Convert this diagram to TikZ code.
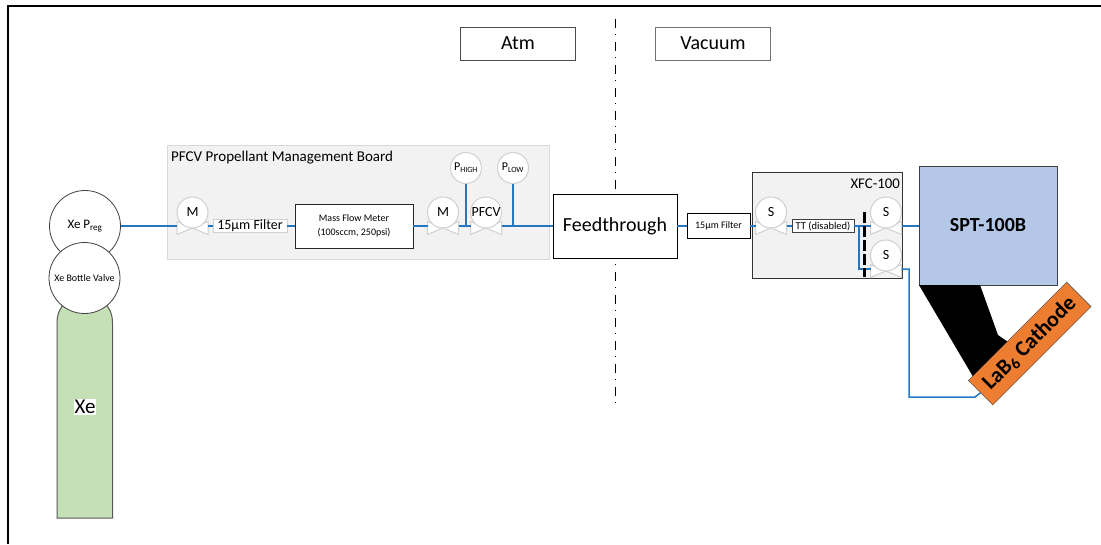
\documentclass[tikz,border=0pt]{standalone}
\usepackage{fontspec}
\setmainfont{Carlito}
\usepackage{tikz}

\definecolor{pipeblue}{HTML}{2476BE}
\definecolor{boardgray}{HTML}{F2F2F2}
\definecolor{edgegray}{HTML}{D0D0D0}
\definecolor{tankgreen}{HTML}{C5E0B4}
\definecolor{sptblue}{HTML}{B4C7E7}
\definecolor{cathodeorange}{HTML}{ED7D31}
\newcommand{\px}[1]{\fontsize{#1}{#1}\selectfont}

\begin{document}
\begin{tikzpicture}[x=1pt,y=-1pt]

\tikzset{box/.style = {shape=rectangle,draw,fill=white,inner sep=0pt}}
\tikzset{gauge/.style = {shape=circle,draw=edgegray,fill=white,inner sep=0pt,minimum size=31pt,line width=1pt}}
\tikzset{bigcircle/.style = {shape=circle,draw=black!75,fill=white,inner sep=0pt,minimum size=71pt,line width=0.8pt}}
\tikzset{pipe/.style = {draw=pipeblue,line width=1.5pt}}
\tikzset{valve/.pic = {
  \draw[edgegray,fill=white,line width=1pt] (-15.5,-6.5) -- (15.5,6.5) -- (15.5,-6.5) -- (-15.5,6.5) -- cycle;
  \node[gauge] (-c) at (0,-15.5) {\px{14}#1};
  \coordinate (-in) at (-15.5,-2);
  \coordinate (-out) at (15.5,-2);
}}

\useasboundingbox (0,0) rectangle (1101,544);

%frame
\coordinate (ftr) at (1101,6);
\coordinate (ftl) at (8,6);
\coordinate (fbl) at (8,544);
\draw[line width=2pt] (ftr) -- (ftl) -- (fbl);

%divider
\coordinate (divtop) at (615.5,19);
\coordinate (divbot) at (615.5,407);
\draw[line width=0.8pt,dash pattern=on 9pt off 6pt on 1pt off 7pt] (divtop) -- (divbot);
\node[box,draw=black!70,minimum width=115pt,minimum height=33pt] (atm) at (518,43.5) {\px{20}Atm};
\node[box,draw=black!55,minimum width=115pt,minimum height=33pt] (vacuum) at (713,43.5) {\px{20}Vacuum};

%panels
\node[box,draw=black!15,fill=boardgray,minimum width=381.5pt,minimum height=114.5pt] (board) at (358.2,202.2) {};
\node[anchor=west,inner sep=0pt] (boardtitle) at (171,157.5) {\px{15}PFCV Propellant Management Board};
\node[box,draw=black!80,fill=boardgray,minimum width=150pt,minimum height=106pt] (xfc) at (827,225) {};
\node[anchor=east,inner sep=0pt] (xfctitle) at (900,184) {\px{14.8}XFC-100};

%tank
\draw[draw=black!65,fill=tankgreen,line width=1pt] (57,518) -- (57,323)
  .. controls (57,305) and (70,296) .. (85,296)
  .. controls (100,296) and (112.5,305) .. (112.5,323) -- (112.5,518) -- cycle;
\node[fill=white,inner sep=1pt] (xe) at (85,407) {\px{21}Xe};
\node[bigcircle] (preg) at (85,226) {\px{13}Xe P\textsubscript{reg}};
\node[bigcircle] (bottle) at (84.5,278) {\px{10}Xe Bottle Valve};

%board parts
\pic (m1) at (192.5,228) {valve=M};
\node[box,draw=edgegray,minimum width=74pt,minimum height=13pt] (filter1) at (250,226) {\px{14}15µm Filter};
\node[box,draw=black!85,line width=0.8pt,minimum width=118pt,minimum height=44pt,align=center] (meter) at (354,226) {\px{10}Mass Flow Meter\\[2pt]\px{10}(100sccm, 250psi)};
\pic (m2) at (443,228) {valve=M};
\pic (pfcv) at (486,228) {valve=PFCV};
\node[gauge] (phigh) at (466,168) {\px{12}P\textsubscript{HIGH}};
\node[gauge] (plow) at (513,168) {\px{12}P\textsubscript{LOW}};
\node[box,minimum width=124pt,minimum height=64pt] (feed) at (615,226) {\px{20}Feedthrough};

%vacuum parts
\node[box,minimum width=63pt,minimum height=25pt] (filter2) at (718.5,226) {\px{10}15µm Filter};
\pic (s1) at (771,228) {valve=S};
\node[box,draw=black!75,line width=0.8pt,minimum width=62pt,minimum height=13pt] (tt) at (823,226) {\px{10.5}TT (disabled)};
\pic (s2) at (886,228) {valve=S};
\pic (s3) at (886,271) {valve=S};
\node[box,draw=black!75,fill=sptblue,minimum width=137.5pt,minimum height=119pt] (spt) at (988,225.5) {\px{20}\textbf{SPT-100B}};

%cathode
\coordinate (armtr) at (980,285);
\coordinate (armb) at (998,335);
\coordinate (armc) at (1008,342);
\coordinate (arml) at (975,380);
\fill[black] (spt.south west) -- (armtr) -- (armb) -- (armc) -- (arml) -- cycle;
\node[box,draw=black!75,fill=cathodeorange,rotate=45,minimum width=139pt,minimum height=34.5pt] (cathode) at (1029.7,343.5) {\px{22}\textbf{LaB\textsubscript{6} Cathode}};

%edges
\draw[pipe] (preg.east) -- (m1-in);
\draw[pipe] (m1-out) -- (filter1.west);
\draw[pipe] (filter1.east) -- (meter.west);
\draw[pipe] (meter.east) -- (m2-in);
\draw[pipe] (m2-out) -- (pfcv-in);
\draw[pipe] (pfcv-out) -- (feed.west);
\draw[pipe] (phigh.south) -- (phigh.south |- m2-out);
\draw[pipe] (plow.south) -- (plow.south |- pfcv-out);
\draw[pipe] (feed.east) -- (filter2.west);
\draw[pipe] (filter2.east) -- (s1-in);
\draw[pipe] (s1-out) -- (tt.west);
\draw[pipe] (tt.east) -- (s2-in);
\draw[pipe] (s2-out) -- (spt.west |- s2-out);
\coordinate (branch) at (859,226);
\draw[pipe] (branch) |- (s3-in);
\coordinate (returncorner) at (909,397);
\coordinate (returnend) at (975,397);
\draw[pipe] (s3-out) -| (returncorner) -- (returnend) -- (cathode.west);

%isolation
\coordinate (isotop) at (864,212);
\coordinate (isobot) at (864,277);
\draw[line width=3pt,dash pattern=on 11pt off 3pt] (isotop) -- (isobot);

\end{tikzpicture}
\end{document}
